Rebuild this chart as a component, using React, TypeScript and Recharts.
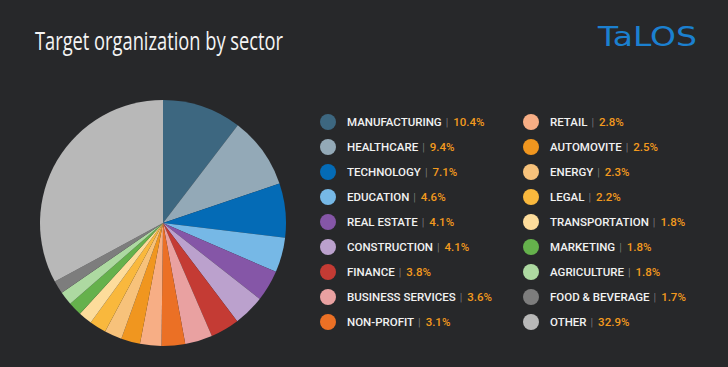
import React from "react";
import { PieChart, Pie, Cell } from "recharts";

const sectors = [
  "MANUFACTURING", "HEALTHCARE", "TECHNOLOGY", "EDUCATION", "REAL ESTATE",
  "CONSTRUCTION", "FINANCE", "BUSINESS SERVICES", "NON-PROFIT", "RETAIL",
  "AUTOMOVITE", "ENERGY", "LEGAL", "TRANSPORTATION", "MARKETING",
  "AGRICULTURE", "FOOD & BEVERAGE", "OTHER",
];
const shares = [10.4, 9.4, 7.1, 4.6, 4.1, 4.1, 3.8, 3.6, 3.1, 2.8, 2.5, 2.3, 2.2, 1.8, 1.8, 1.8, 1.7, 32.9];
const colors = [
  "#3d6780", "#93a9b7", "#046bb6", "#76b8e6", "#8556a7", "#bba1cd",
  "#c43b34", "#e9a1a1", "#eb7025", "#f7ae85", "#f0961f", "#f7c27b",
  "#f9b83d", "#fddc9b", "#65b14c", "#add9a1", "#7d7d7d", "#b8b8b8",
];

const data = sectors.map((name, i) => ({ name, value: shares[i] }));

const BG = "#27282a";

export default function App() {
  const rowsPerCol = 9;
  return (
    <div style={{ position: "absolute", left: 0, top: 0, width: 728, height: 367, background: BG, overflow: "hidden" }}>
      <div style={{ position: "absolute", left: 0, top: 0 }}>
        <PieChart width={728} height={367} margin={{ top: 0, right: 0, bottom: 0, left: 0 }}>
          <Pie
            data={data}
            dataKey="value"
            nameKey="name"
            cx={163}
            cy={223}
            outerRadius={123}
            innerRadius={0}
            startAngle={90}
            endAngle={-270}
            stroke="none"
            isAnimationActive={false}
          >
            {data.map((d, i) => (
              <Cell key={d.name} fill={colors[i]} />
            ))}
          </Pie>
        </PieChart>
      </div>
      <svg width={728} height={367} style={{ position: "absolute", left: 0, top: 0 }}>
        <text x={35} y={50} fill="#f4f4f4" fontFamily="'Open Sans', sans-serif" fontSize={26}
          textLength={248} lengthAdjust="spacingAndGlyphs">Target organization by sector</text>
        <text x={598} y={46} fill="#1b80d0" fontFamily="'DejaVu Sans', sans-serif" fontSize={26}
          fontWeight={400} textLength={99} lengthAdjust="spacingAndGlyphs">TaLOS</text>
        {data.map((d, i) => {
          const col = Math.floor(i / rowsPerCol);
          const row = i % rowsPerCol;
          const cx = col === 0 ? 328 : 531;
          const tx = col === 0 ? 347 : 550;
          const cy = 122 + row * 25;
          return (
            <g key={d.name}>
              <circle cx={cx} cy={cy} r={8} fill={colors[i]} />
              <text x={tx} y={cy + 4} fontFamily="Roboto, sans-serif" fontSize={11.5} fontWeight={500}>
                <tspan fill="#f2f2f2">{d.name}</tspan>
                <tspan fill="#8a8a8a" dx={4} fontWeight={300}>|</tspan>
                <tspan fill="#f39a1e" dx={5}>{d.value.toFixed(1)}%</tspan>
              </text>
            </g>
          );
        })}
      </svg>
    </div>
  );
}
